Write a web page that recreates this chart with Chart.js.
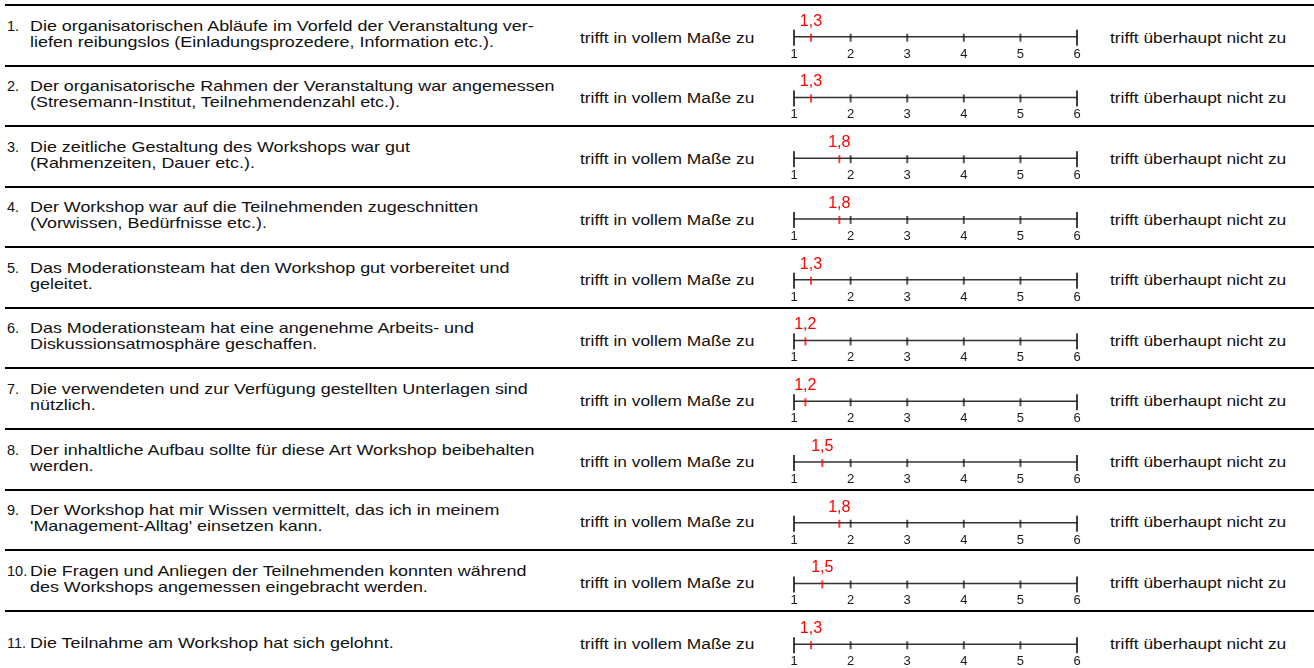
<!DOCTYPE html>
<html lang="de">
<head>
<meta charset="utf-8">
<title>Workshop-Bewertung</title>
<script src="https://cdn.jsdelivr.net/npm/chart.js@4.4.0/dist/chart.umd.min.js"></script>
<style>
  html, body { margin: 0; padding: 0; background: #fff; }
  body {
    width: 1314px; height: 668px; position: relative; overflow: hidden;
    font-family: "Liberation Sans", Arial, sans-serif; color: #111;
  }
  .sep { position: absolute; left: 5px; right: 0; height: 2px; background: #000; }
  .nr { position: absolute; left: 7px; font-size: 14.5px; line-height: 16px; white-space: nowrap; }
  .q {
    position: absolute; left: 30px; font-size: 14.5px; line-height: 16px;
    transform: scaleX(1.235); transform-origin: 0 0; white-space: nowrap;
  }
  .lab {
    position: absolute; font-size: 14px; line-height: 14px;
    transform: scaleX(1.24); transform-origin: 0 0; white-space: nowrap;
  }
  #chart { position: absolute; left: 0; top: 0; }
</style>
</head>
<body>
<div id="zeilen"></div>
<canvas id="chart" width="1314" height="668"></canvas>

<script>
// ── Daten ──
const fragen = [
  ['Die organisatorischen Abläufe im Vorfeld der Veranstaltung ver-', 'liefen reibungslos (Einladungsprozedere, Information etc.).'],
  ['Der organisatorische Rahmen der Veranstaltung war angemessen', '(Stresemann-Institut, Teilnehmendenzahl etc.).'],
  ['Die zeitliche Gestaltung des Workshops war gut', '(Rahmenzeiten, Dauer etc.).'],
  ['Der Workshop war auf die Teilnehmenden zugeschnitten', '(Vorwissen, Bedürfnisse etc.).'],
  ['Das Moderationsteam hat den Workshop gut vorbereitet und', 'geleitet.'],
  ['Das Moderationsteam hat eine angenehme Arbeits- und', 'Diskussionsatmosphäre geschaffen.'],
  ['Die verwendeten und zur Verfügung gestellten Unterlagen sind', 'nützlich.'],
  ['Der inhaltliche Aufbau sollte für diese Art Workshop beibehalten', 'werden.'],
  ['Der Workshop hat mir Wissen vermittelt, das ich in meinem', '\'Management-Alltag\' einsetzen kann.'],
  ['Die Fragen und Anliegen der Teilnehmenden konnten während', 'des Workshops angemessen eingebracht werden.'],
  ['Die Teilnahme am Workshop hat sich gelohnt.']
];
const mittelwerte = [1.3, 1.3, 1.8, 1.8, 1.3, 1.2, 1.2, 1.5, 1.8, 1.5, 1.3];
const skala = [1, 2, 3, 4, 5, 6];
const labelLinks = 'trifft in vollem Maße zu';
const labelRechts = 'trifft überhaupt nicht zu';

// ── Layout ──
const ZEILE_TOP = 5;
const ZEILE_H = 60.57;
const SKALA_TOP = 33.5;   // erste Skala
const SKALA_H = 61.4;     // Abstand der Skalen

// ── Texte und Trennlinien (HTML) ──
const zeilen = document.getElementById('zeilen');
fragen.forEach((f, i) => {
  const top = ZEILE_TOP + i * ZEILE_H;
  const einzeilig = f.length === 1;

  const sep = document.createElement('div');
  sep.className = 'sep';
  sep.style.top = (top - 1) + 'px';
  zeilen.appendChild(sep);

  const nr = document.createElement('div');
  nr.className = 'nr';
  nr.style.top = (top + (einzeilig ? 24.6 : 12.6)) + 'px';
  nr.textContent = (i + 1) + '.';
  zeilen.appendChild(nr);

  const q = document.createElement('div');
  q.className = 'q';
  q.style.top = (top + (einzeilig ? 24.6 : 12.6)) + 'px';
  q.innerHTML = f.join('<br>');
  zeilen.appendChild(q);

  const l = document.createElement('div');
  l.className = 'lab';
  l.style.left = '580px';
  l.style.top = (top + 25.8) + 'px';
  l.textContent = labelLinks;
  zeilen.appendChild(l);

  const r = document.createElement('div');
  r.className = 'lab';
  r.style.left = '1110px';
  r.style.top = (top + 25.8) + 'px';
  r.textContent = labelRechts;
  zeilen.appendChild(r);
});

// ── Strich-Symbole für die Skala ──
function strich(farbe, oben, unten, breite) {
  const h = 2 * Math.max(oben, unten) + 2;
  const c = document.createElement('canvas');
  c.width = 4; c.height = h;
  const g = c.getContext('2d');
  g.fillStyle = farbe;
  g.fillRect((4 - breite) / 2, h / 2 - oben, breite, oben + unten);
  return c;
}
const endStrich = strich('#111', 7, 9, 1.6);
const teilStrich = strich('#111', 3, 5, 1.4);
const wertStrich = strich('#ff0000', 3, 5, 1.5);

// ── Beschriftung: Skalenzahlen und Mittelwerte ──
const beschriftung = {
  id: 'beschriftung',
  afterDatasetsDraw(chart) {
    const { ctx, scales: { x, y } } = chart;
    ctx.save();
    ctx.textAlign = 'center';
    ctx.textBaseline = 'alphabetic';
    mittelwerte.forEach((v, i) => {
      const py = y.getPixelForValue(i);
      ctx.fillStyle = '#1a1a1a';
      ctx.font = '13px "Liberation Sans", Arial, sans-serif';
      skala.forEach(s => ctx.fillText(String(s), x.getPixelForValue(s), py + 21));
      ctx.fillStyle = '#ff0000';
      ctx.font = '16px "Liberation Sans", Arial, sans-serif';
      ctx.fillText(v.toFixed(1).replace('.', ','), x.getPixelForValue(v), py - 11);
    });
    ctx.restore();
  }
};

// ── Diagramm ──
const skalenDatasets = fragen.map((f, i) => ({
  data: skala.map(s => ({ x: s, y: i })),
  showLine: true,
  borderColor: '#333',
  borderWidth: 1.5,
  pointStyle: skala.map((s, k) => (k === 0 || k === skala.length - 1) ? endStrich : teilStrich),
  pointRadius: 2,
  pointHoverRadius: 2,
  clip: false,
  order: 2
}));

const wertDataset = {
  data: mittelwerte.map((v, i) => ({ x: v, y: i })),
  showLine: false,
  pointStyle: wertStrich,
  pointRadius: 2,
  pointHoverRadius: 2,
  clip: false,
  order: 0
};

const yMin = -SKALA_TOP / SKALA_H;
const yMax = yMin + 668 / SKALA_H;

new Chart(document.getElementById('chart'), {
  type: 'scatter',
  data: { datasets: [...skalenDatasets, wertDataset] },
  options: {
    responsive: false,
    animation: false,
    events: [],
    layout: { padding: { left: 794, right: 237, top: 0, bottom: 0 } },
    plugins: { legend: { display: false }, tooltip: { enabled: false } },
    scales: {
      x: { type: 'linear', min: 1, max: 6, display: false },
      y: { type: 'linear', min: yMin, max: yMax, reverse: true, display: false }
    }
  },
  plugins: [beschriftung]
});
</script>
</body>
</html>
